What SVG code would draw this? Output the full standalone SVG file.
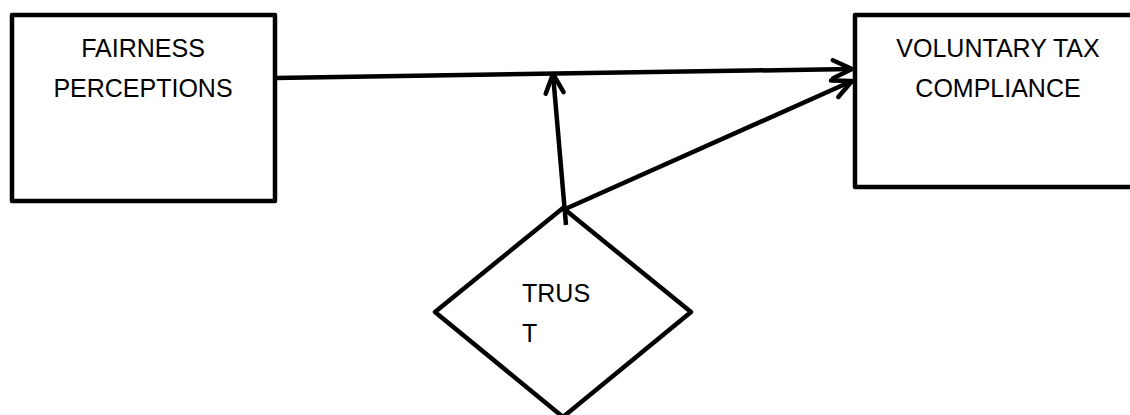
<svg xmlns="http://www.w3.org/2000/svg" width="1130" height="415" viewBox="0 0 1130 415">
<style>
.box{fill:#fff;stroke:#000;stroke-width:4.5;stroke-linejoin:round}
.lbl{font-family:"Liberation Sans",Arial,sans-serif;font-size:25px;fill:#000}
.conn{fill:none;stroke:#000;stroke-width:4.5;stroke-linecap:butt}
</style>
<defs>
<marker id="open" markerUnits="userSpaceOnUse" viewBox="-22 -12 26 24" refX="0" refY="0" markerWidth="26" markerHeight="24" orient="auto">
<path d="M-19,-9 L0,0 L-19,9" fill="none" stroke="#000" stroke-width="4.5" stroke-linecap="round" stroke-linejoin="round"/>
</marker>
</defs>
<rect width="1130" height="415" fill="#fff"/>
<g id="fairness">
<rect class="box" x="12" y="15" width="263" height="186"/>
<text class="lbl" x="143" y="57" text-anchor="middle">FAIRNESS</text>
<text class="lbl" x="143" y="97" text-anchor="middle">PERCEPTIONS</text>
</g>
<g id="compliance">
<rect class="box" x="855" y="15" width="300" height="172"/>
<text class="lbl" x="998" y="57" text-anchor="middle">VOLUNTARY TAX</text>
<text class="lbl" x="998" y="97" text-anchor="middle">COMPLIANCE</text>
</g>
<g id="trust">
<polygon class="box" points="563,208 691,312 563,417 435,312"/>
<text class="lbl" x="522" y="302">TRUS</text>
<text class="lbl" x="522" y="342">T</text>
</g>
<g id="connectors">
<line class="conn" x1="275" y1="78" x2="852" y2="69" marker-end="url(#open)"/>
<line class="conn" x1="566" y1="225" x2="553" y2="74" marker-end="url(#open)"/>
<line class="conn" x1="563" y1="210" x2="852" y2="81" marker-end="url(#open)"/>
</g>
</svg>
